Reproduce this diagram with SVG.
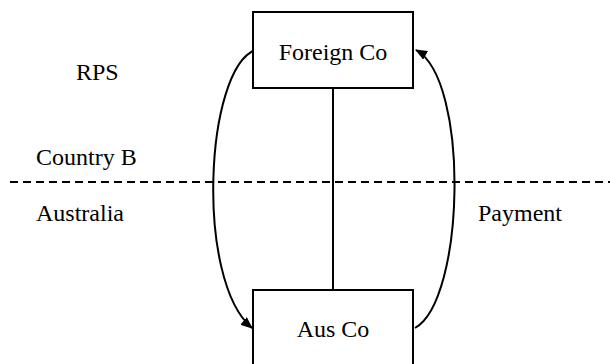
<svg xmlns="http://www.w3.org/2000/svg" width="610" height="364" viewBox="0 0 610 364">
<defs>
<marker id="ah" viewBox="0 0 12 10" refX="11" refY="5" markerWidth="12" markerHeight="10" markerUnits="userSpaceOnUse" orient="auto">
<path d="M0,0 L12,5 L0,10 Z" fill="#000"/>
</marker>
</defs>
<rect width="610" height="364" fill="#fff"/>
<g id="connectors" fill="none" stroke="#000" stroke-width="2">
<line x1="333" y1="88" x2="333" y2="290"/>
<line x1="10" y1="182" x2="610" y2="182" stroke-dasharray="8 5"/>
<path d="M255,50 C205,70 195,280 252,328" marker-end="url(#ah)"/>
<path d="M415,328 C465,300 470,80 416,50" marker-end="url(#ah)"/>
</g>
<g id="foreign-co">
<rect x="253" y="12" width="160" height="76" fill="#fff" stroke="#000" stroke-width="2"/>
<text x="333" y="60" text-anchor="middle" font-family="Times New Roman" font-size="24">Foreign Co</text>
</g>
<g id="aus-co">
<rect x="253" y="290" width="160" height="80" fill="#fff" stroke="#000" stroke-width="2"/>
<text x="333" y="337" text-anchor="middle" font-family="Times New Roman" font-size="24">Aus Co</text>
</g>
<g id="labels">
<text x="76" y="80" font-family="Times New Roman" font-size="24">RPS</text>
<text x="36" y="165" font-family="Times New Roman" font-size="24">Country B</text>
<text x="36" y="221" font-family="Times New Roman" font-size="24">Australia</text>
<text x="478" y="221" font-family="Times New Roman" font-size="24">Payment</text>
</g>
</svg>
